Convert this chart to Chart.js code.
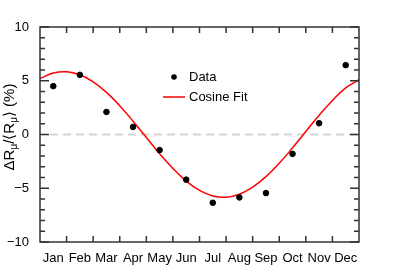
<!DOCTYPE html>
<html>
<head>
<meta charset="utf-8">
<script src="https://cdn.jsdelivr.net/npm/chart.js@4.4.1/dist/chart.umd.min.js"></script>
<style>
  html, body { margin: 0; padding: 0; background: #fff; }
  #wrap { width: 399px; height: 270px; }
</style>
</head>
<body>
<div id="wrap"><canvas id="chart" width="399" height="270"></canvas></div>
<script>
// months along the x axis (points sit in the middle of each month)
const months = ['Jan', 'Feb', 'Mar', 'Apr', 'May', 'Jun', 'Jul', 'Aug', 'Sep', 'Oct', 'Nov', 'Dec'];
const dataValues = [4.5, 5.55, 2.1, 0.7, -1.45, -4.2, -6.35, -5.85, -5.45, -1.8, 1.05, 6.45];

// cosine fit, every half month
const fitX = [0, 0.5, 1, 1.5, 2, 2.5, 3, 3.5, 4, 4.5, 5, 5.5, 6, 6.5, 7, 7.5, 8, 8.5, 9, 9.5, 10, 10.5, 11, 11.5, 12];
const fitY = [5.2, 5.72, 5.84, 5.56, 4.9, 3.92, 2.68, 1.24, -0.28, -1.8, -3.16, -4.34, -5.2, -5.72, -5.84, -5.56, -4.9, -3.92, -2.68, -1.24, 0.28, 1.8, 3.16, 4.34, 5.1];

const yTicks = [-10, -5, 0, 5, 10];
const FONT = '"Liberation Sans", Arial, Helvetica, sans-serif';

const dataPts = dataValues.map((v, i) => ({ x: i + 0.5, y: v }));
const fitPts = fitX.map((x, i) => ({ x: x, y: fitY[i] }));

// frame, inward ticks, zero line, legend and y title
const rootStyle = {
  id: 'rootStyle',
  beforeDatasetsDraw(chart) {
    const ctx = chart.ctx, a = chart.chartArea, y = chart.scales.y;
    ctx.save();
    ctx.strokeStyle = '#d4d4d4';
    ctx.lineWidth = 2;
    ctx.setLineDash([8, 5]);
    ctx.beginPath();
    ctx.moveTo(a.left + 10, y.getPixelForValue(0));
    ctx.lineTo(a.right - 2, y.getPixelForValue(0));
    ctx.stroke();
    ctx.restore();
  },
  afterDraw(chart) {
    const ctx = chart.ctx, a = chart.chartArea, x = chart.scales.x, y = chart.scales.y;
    ctx.save();
    ctx.strokeStyle = '#333';
    ctx.lineWidth = 1.5;
    ctx.strokeRect(a.left, a.top, a.right - a.left, a.bottom - a.top);
    ctx.beginPath();
    for (let v = -10; v <= 10; v++) {
      const py = y.getPixelForValue(v);
      const len = (v % 5 === 0) ? 9 : 5;
      ctx.moveTo(a.left, py); ctx.lineTo(a.left + len, py);
      ctx.moveTo(a.right, py); ctx.lineTo(a.right - len, py);
    }
    for (let m = 1; m < months.length; m++) {
      const px = x.getPixelForValue(m);
      ctx.moveTo(px, a.bottom); ctx.lineTo(px, a.bottom - 6);
      ctx.moveTo(px, a.top); ctx.lineTo(px, a.top + 6);
    }
    ctx.stroke();

    // legend
    const ds = chart.data.datasets;
    ctx.font = '13px ' + FONT;
    ctx.fillStyle = '#000';
    ctx.textBaseline = 'middle';
    ctx.beginPath();
    ctx.arc(174, 77, 2.8, 0, Math.PI * 2);
    ctx.fill();
    ctx.fillText(ds[0].label, 189, 77);
    ctx.strokeStyle = '#ff0000';
    ctx.lineWidth = 1.5;
    ctx.beginPath();
    ctx.moveTo(163, 97); ctx.lineTo(185, 97);
    ctx.stroke();
    ctx.fillText(ds[1].label, 189, 97);

    // y title with subscripts
    const parts = [['ΔR', 0], ['μ', 1], ['/⟨R', 0], ['μ', 1], ['⟩ (%)', 0]];
    const big = '15px ' + FONT, small = '10px ' + FONT;
    let total = 0;
    parts.forEach(p => { ctx.font = p[1] ? small : big; total += ctx.measureText(p[0]).width; });
    ctx.translate(14, 127);
    ctx.rotate(-Math.PI / 2);
    ctx.textBaseline = 'alphabetic';
    let cx = -total / 2;
    parts.forEach(p => {
      ctx.font = p[1] ? small : big;
      ctx.fillText(p[0], cx, p[1] ? 3 : 0);
      cx += ctx.measureText(p[0]).width;
    });
    ctx.restore();
  }
};

new Chart(document.getElementById('chart'), {
  type: 'scatter',
  data: {
    datasets: [{
      label: 'Data',
      data: dataPts,
      backgroundColor: '#000',
      borderColor: '#000',
      pointRadius: 2.8,
      showLine: false,
      order: 1
    }, {
      label: 'Cosine Fit',
      data: fitPts,
      borderColor: '#ff0000',
      borderWidth: 1.5,
      pointRadius: 0,
      showLine: true,
      tension: 0.4,
      order: 2
    }]
  },
  options: {
    responsive: false,
    animation: false,
    layout: { padding: { top: 27, right: 40, left: 0, bottom: 0 } },
    plugins: { legend: { display: false }, tooltip: { enabled: false } },
    scales: {
      x: {
        type: 'linear',
        min: 0,
        max: 12,
        grid: { display: false },
        border: { display: false },
        afterBuildTicks: s => { s.ticks = months.map((m, i) => ({ value: i + 0.5 })); },
        afterFit: s => { s.height = 28; },
        ticks: {
          autoSkip: false,
          maxRotation: 0,
          padding: 1,
          color: '#000',
          font: { family: FONT, size: 13 },
          callback: (v, i) => months[i]
        }
      },
      y: {
        min: -10,
        max: 10,
        grid: { display: false },
        border: { display: false },
        afterBuildTicks: s => { s.ticks = yTicks.map(v => ({ value: v })); },
        afterFit: s => { s.width = 40; },
        ticks: {
          padding: 3,
          color: '#000',
          font: { family: FONT, size: 13 },
          callback: v => v < 0 ? '\u2212' + Math.abs(v) : String(v)
        }
      }
    }
  },
  plugins: [rootStyle]
});
</script>
</body>
</html>
